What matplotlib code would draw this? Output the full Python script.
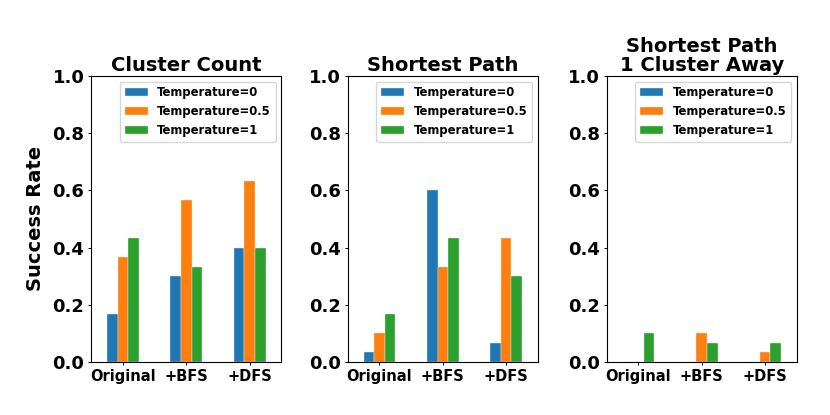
import matplotlib
matplotlib.use("Agg")
import matplotlib.pyplot as plt
import numpy as np

categories = ["Original", "+BFS", "+DFS"]
series_labels = ["Temperature=0", "Temperature=0.5", "Temperature=1"]
titles = ["Cluster Count", "Shortest Path", "Shortest Path\n1 Cluster Away"]

cluster_count = {
    "Temperature=0": [0.167, 0.300, 0.400],
    "Temperature=0.5": [0.367, 0.567, 0.633],
    "Temperature=1": [0.433, 0.333, 0.400],
}
shortest_path = {
    "Temperature=0": [0.033, 0.600, 0.067],
    "Temperature=0.5": [0.100, 0.333, 0.433],
    "Temperature=1": [0.167, 0.433, 0.300],
}
shortest_path_1away = {
    "Temperature=0": [0.0, 0.0, 0.0],
    "Temperature=0.5": [0.0, 0.100, 0.033],
    "Temperature=1": [0.100, 0.067, 0.067],
}
datasets = [cluster_count, shortest_path, shortest_path_1away]
colors = ["#1f77b4", "#ff7f0e", "#2ca02c"]

fig = plt.figure(figsize=(8.3, 4.15), dpi=100)
lefts = [0.110, 0.419, 0.731]
bw = 0.5 / 3
x = np.arange(len(categories))
yticks = np.arange(0, 1.01, 0.2)
for i, (data, title) in enumerate(zip(datasets, titles)):
    ax = fig.add_axes([lefts[i], 0.128, 0.229, 0.689])
    for j, s in enumerate(series_labels):
        ax.bar(x + (j - 1) * bw, data[s], width=bw, color=colors[j], label=s,
               edgecolor="#e8e8e8", linewidth=0.3)
    ax.set_xlim(-0.5, 2.5)
    ax.set_ylim(0, 1.0)
    ax.set_xticks(x)
    ax.set_xticklabels(categories, fontsize=10.5, fontweight="bold")
    ax.set_yticks(yticks)
    ax.set_yticklabels([f"{v:.1f}" for v in yticks], fontsize=13, fontweight="bold")
    ax.tick_params(length=2.5, pad=2.5, width=0.7)
    for sp in ax.spines.values():
        sp.set_linewidth(0.8)
    ax.set_title(title, fontsize=14, fontweight="bold", linespacing=1.0, pad=3.5)
    if i == 0:
        ax.set_ylabel("Success Rate", fontsize=14, fontweight="bold", labelpad=5)
    ax.legend(prop={"weight": "bold", "size": 8.4}, loc="upper right",
              labelspacing=0.5)

fig.savefig("out.png", dpi=100)
